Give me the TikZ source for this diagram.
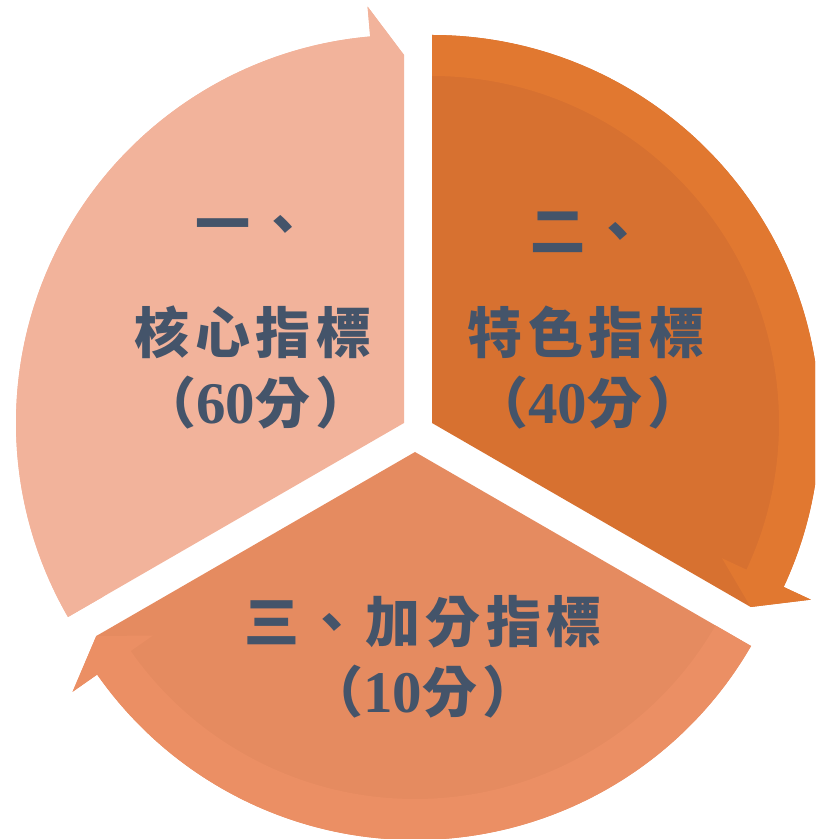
\documentclass[tikz,border=0pt]{standalone}
\usepackage{fontspec}
\newfontfamily\cjk{Noto Sans CJK TC}[LetterSpace=10]
\newfontfamily\dig{Liberation Serif}
\definecolor{lsec}{HTML}{F2B39B}
\definecolor{rin}{HTML}{D77130}
\definecolor{rring}{HTML}{E17830}
\definecolor{bin}{HTML}{E58B60}
\definecolor{bring}{HTML}{EB8F64}
\definecolor{txt}{HTML}{44546A}
\newcommand\drawringsector[6]{%
  \begin{scope}[shift={(#1pt,#2pt)}]
    \pgfmathsetmacro\myhb{#4+5}
    \fill[#5] (0pt,0pt) -- (#3:388pt) arc[start angle=#3, end angle=\myhb, radius=388pt]
      -- (\myhb:418pt) -- (#4:368pt) -- cycle;
    \fill[#6] (#3:347pt) -- (#3:388pt) arc[start angle=#3, end angle=\myhb, radius=388pt]
      -- (\myhb:418pt) -- (#4:368pt) -- (\myhb:320pt) -- (\myhb:347pt)
      arc[start angle=\myhb, end angle=#3, radius=347pt] -- cycle;
  \end{scope}}
\newcommand\digs[1]{{\dig\fontsize{59}{60}\selectfont #1}}
\tikzset{
  lbl/.style={text=txt, inner sep=0pt, anchor=center,
    font=\cjk\bfseries\fontsize{55}{60}\selectfont}
}
\begin{document}
\begin{tikzpicture}[x=1pt,y=1pt]
  \useasboundingbox (0,0) rectangle (815,839);
  \clip (0,0) rectangle (815,839);
  % sectors (vertex x, vertex y, start, end, inner, ring)
  \drawringsector{404}{416}{210}{90}{lsec}{lsec}
  \drawringsector{432}{416}{90}{-30}{rin}{rring}
  \drawringsector{415}{387}{-30}{-150}{bin}{bring}
  % labels
  \node[lbl] (t1a) at (253,609) {一、};
  \node[lbl] (t1b) at (253,507) {核心指標};
  \node[lbl] (t1c) at (256,436) {（\digs{60}分）};
  \node[lbl] (t2a) at (588,607) {二、};
  \node[lbl] (t2b) at (586,507) {特色指標};
  \node[lbl] (t2c) at (588,436) {（\digs{40}分）};
  \node[lbl] (t3a) at (423,217) {三、加分指標};
  \node[lbl] (t3b) at (423,147) {（\digs{10}分）};
\end{tikzpicture}
\end{document}
